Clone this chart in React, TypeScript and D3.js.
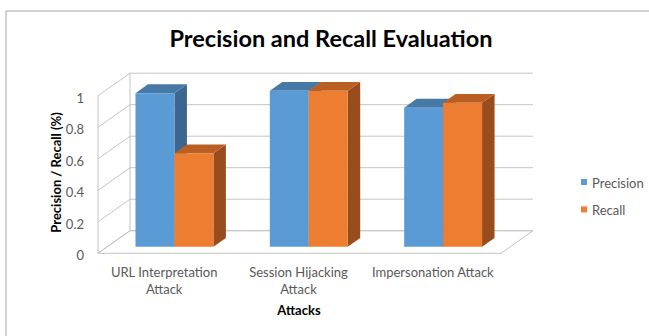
import React from "react";
import * as d3 from "d3";

const categories = ["URL Interpretation Attack", "Session Hijacking Attack", "Impersonation Attack"];
const categoryLines = [["URL Interpretation", "Attack"], ["Session Hijacking", "Attack"], ["Impersonation Attack"]];
const seriesNames = ["Precision", "Recall"];
const precision = [0.975, 0.99, 0.883];
const recall = [0.593, 0.99, 0.914];
const yTicks = [0, 0.2, 0.4, 0.6, 0.8, 1];

const W = 649;
const H = 336;
const FONT = "Lato, 'Open Sans', sans-serif";

const colors = {
  Precision: { front: "#5B9BD5", top: "#4779A7", side: "#3B6690" },
  Recall: { front: "#ED7D31", top: "#BA5E22", side: "#9A4D1C" },
} as Record<string, { front: string; top: string; side: string }>;

export default function App() {
  const xFront = d3.scaleBand<string>().domain(categories).range([98, 501]);
  const y = d3.scaleLinear().domain([0, 1]).range([253.3, 95.8]);
  const depthX = 32;
  const depthY = 22.6;
  const P = (xf: number, v: number, d: number): [number, number] => [xf + depthX * d, y(v) - depthY * d];
  const pts = (arr: [number, number][]) => arr.map((p) => p.join(",")).join(" ");

  const bw = xFront.bandwidth();
  const barW = bw * 0.29;
  const x1 = d3.scaleBand<string>().domain(seriesNames).range([bw / 2 - barW, bw / 2 + barW]);
  const d0 = 0.29;
  const d1 = 0.68;
  const gridColor = "#C4C4C4";
  const x0 = 98;
  const xEnd = 501;

  const data = [precision, recall];

  return (
    <svg width={W} height={H} style={{ position: "absolute", left: 0, top: 0 }}>
      <rect x={0} y={0} width={W} height={H} fill="#fff" />
      <rect x={6} y={11} width={800} height={500} fill="none" stroke="#A6A6A6" strokeWidth={1} />
      <text x={331} y={47} textAnchor="middle" fontFamily={FONT} fontWeight="bold" fontSize={23.5} fill="#000">
        Precision and Recall Evaluation
      </text>

      {/* floor */}
      <polygon
        points={pts([P(x0, 0, 0), P(xEnd, 0, 0), P(xEnd, 0, 1), P(x0, 0, 1)])}
        fill="none"
        stroke={gridColor}
        strokeWidth={1}
      />
      {/* left wall edges */}
      <line x1={P(x0, 0, 0)[0]} y1={P(x0, 0, 0)[1]} x2={P(x0, 1, 0)[0]} y2={P(x0, 1, 0)[1]} stroke={gridColor} />
      <line x1={P(x0, 0, 1)[0]} y1={P(x0, 0, 1)[1]} x2={P(x0, 1, 1)[0]} y2={P(x0, 1, 1)[1]} stroke={gridColor} />
      {yTicks.map((t) => {
        const a = P(x0, t, 0);
        const b = P(x0, t, 1);
        const c = P(xEnd, t, 1);
        return (
          <g key={t}>
            <polyline points={pts([a, b, c])} fill="none" stroke={gridColor} strokeWidth={1} />
            <text
              x={84}
              y={a[1] + 2}
              textAnchor="end"
              dominantBaseline="central"
              fontFamily={FONT}
              fontSize={13}
              fill="#595959"
            >
              {d3.format("~g")(t)}
            </text>
          </g>
        );
      })}

      {/* bars */}
      {categories.map((cat, ci) =>
        seriesNames.map((s, si) => {
          const v = data[si][ci];
          const xl = (xFront(cat) as number) + (x1(s) as number);
          const xr = xl + x1.bandwidth();
          const c = colors[s];
          const front = [P(xl, 0, d0), P(xr, 0, d0), P(xr, v, d0), P(xl, v, d0)];
          const top = [P(xl, v, d0), P(xr, v, d0), P(xr, v, d1), P(xl, v, d1)];
          const side = [P(xr, 0, d0), P(xr, 0, d1), P(xr, v, d1), P(xr, v, d0)];
          return (
            <g key={cat + s}>
              <polygon points={pts(side)} fill={c.side} />
              <polygon points={pts(top)} fill={c.top} />
              <polygon points={pts(front)} fill={c.front} />
            </g>
          );
        })
      )}

      {/* category labels */}
      {categories.map((cat, ci) => {
        const cx = (xFront(cat) as number) + bw / 2 - 1;
        return (
          <text key={cat} textAnchor="middle" fontFamily={FONT} fontSize={13} fill="#595959">
            {categoryLines[ci].map((ln, li) => (
              <tspan key={li} x={cx} y={277 + li * 16.5}>
                {ln}
              </tspan>
            ))}
          </text>
        );
      })}
      <text x={299} y={315} textAnchor="middle" fontFamily={FONT} fontWeight="bold" fontSize={13} fill="#000">
        Attacks
      </text>
      <text
        transform={`translate(61,172.5) rotate(-90)`}
        textAnchor="middle"
        fontFamily={FONT}
        fontWeight="bold"
        fontSize={13}
        fill="#000"
      >
        Precision / Recall (%)
      </text>

      {/* legend */}
      {seriesNames.map((s, i) => (
        <g key={s} transform={`translate(581,${179 + i * 27.4})`}>
          <rect x={0} y={0} width={6} height={6} fill={colors[s].front} />
          <text x={11} y={3.5} dominantBaseline="central" fontFamily={FONT} fontSize={13} fill="#595959">
            {s}
          </text>
        </g>
      ))}
    </svg>
  );
}
